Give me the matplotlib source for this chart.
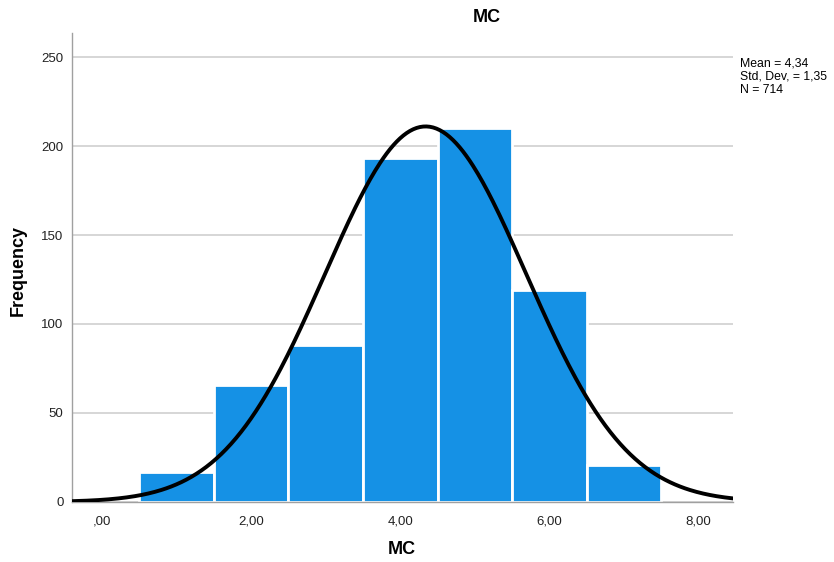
import numpy as np
import matplotlib
matplotlib.use("Agg")
import matplotlib.pyplot as plt

plt.rcParams['font.family'] = ['Liberation Sans', 'DejaVu Sans']

# histogram counts per bin (bin centers 1..7, width 1)
bin_centers = [1, 2, 3, 4, 5, 6, 7]
counts = [17, 66, 88, 193, 210, 119, 21]
mean, std, n = 4.34, 1.35, 714
x_ticks = [0, 2, 4, 6, 8]
x_ticklabels = [",00", "2,00", "4,00", "6,00", "8,00"]
y_ticks = [0, 50, 100, 150, 200, 250]

fig = plt.figure(figsize=(8.34, 5.62), dpi=100)
ax = fig.add_axes([0.0863, 0.1068, 0.7926, 0.8345])

ax.bar(bin_centers, counts, width=1.0, color="#1591e5", edgecolor="white",
       linewidth=2.0, zorder=2)

# fitted normal curve (N * binwidth * pdf)
xs = np.linspace(-0.4, 8.46, 400)
ys = n * 1.0 / (std * np.sqrt(2 * np.pi)) * np.exp(-0.5 * ((xs - mean) / std) ** 2)
ax.plot(xs, ys, color="black", linewidth=2.8, zorder=3)

ax.set_xlim(-0.4, 8.46)
ax.set_ylim(0, 263.5)
ax.set_xticks(x_ticks)
ax.set_xticklabels(x_ticklabels)
ax.set_yticks(y_ticks)
ax.tick_params(length=0, labelsize=9.5, colors="#222222")
ax.tick_params(axis="x", pad=10)
ax.tick_params(axis="y", pad=6)
ax.grid(axis="y", color="#cccccc", linewidth=1.1, zorder=1)
ax.set_axisbelow(True)
for s in ["top", "right"]:
    ax.spines[s].set_visible(False)
for s in ["left", "bottom"]:
    ax.spines[s].set_color("#a0a0a0")
    ax.spines[s].set_linewidth(1.0)

fig.text(487 / 834, 1 - 18 / 562, "MC", ha="center", va="center",
         fontsize=13, fontweight="bold")
fig.text(402 / 834, 1 - 550 / 562, "MC", ha="center", va="center",
         fontsize=13, fontweight="bold")
fig.text(18 / 834, 1 - 270 / 562, "Frequency", ha="center", va="center",
         rotation=90, fontsize=13, fontweight="bold")
fig.text(740 / 834, 1 - 57 / 562, f"Mean = {mean:.2f}".replace(".", ",")
         + f"\nStd. Dev. = {std:.2f}".replace(".", ",") + f"\nN = {n}",
         ha="left", va="top", fontsize=8.8, linespacing=1.15)

fig.savefig("out.png", dpi=100)
